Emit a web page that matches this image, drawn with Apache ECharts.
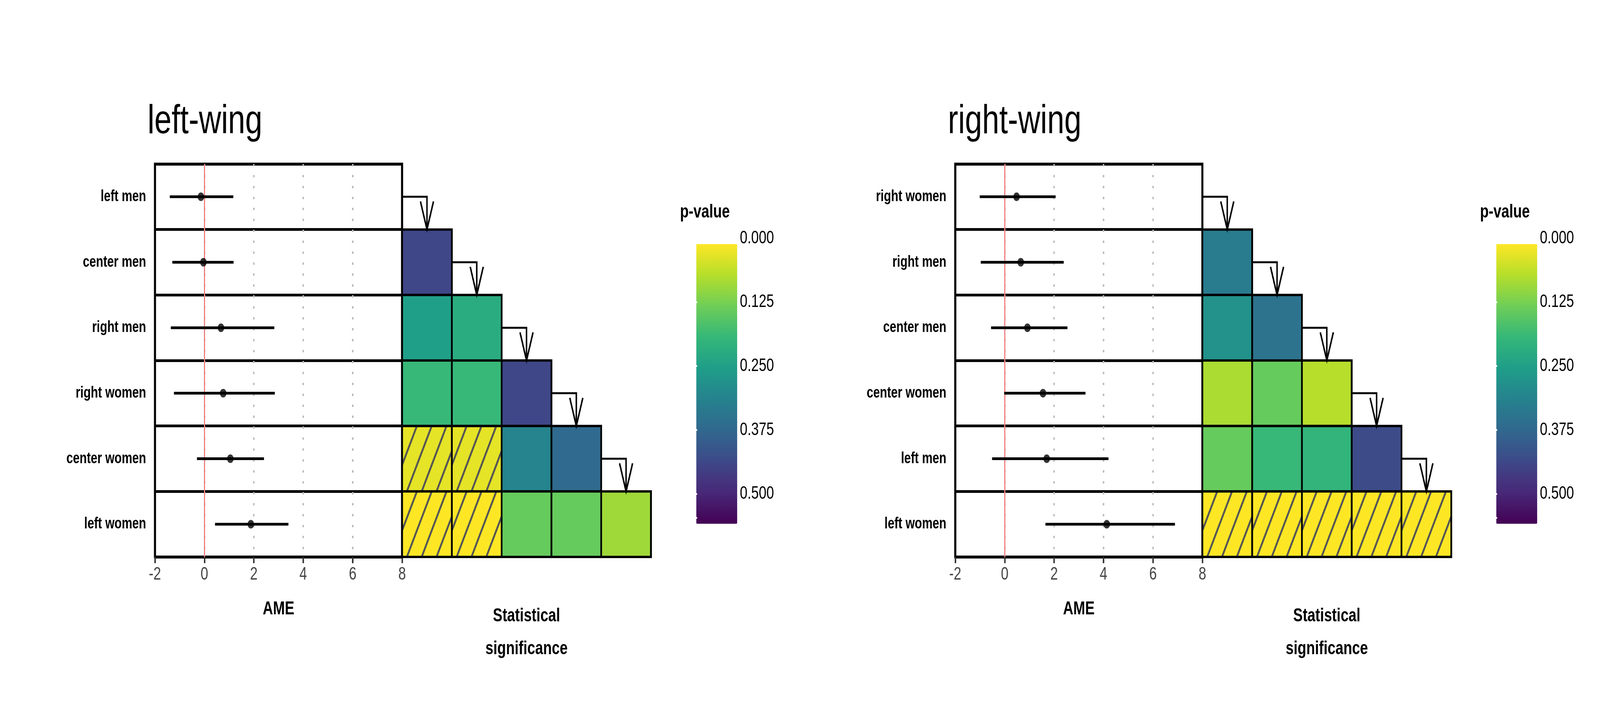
<!DOCTYPE html>
<html>
<head>
<meta charset="utf-8">
<script src="https://cdn.jsdelivr.net/npm/echarts@6/dist/echarts.min.js"></script>
<style>
  html, body { margin: 0; padding: 0; background: #fff; overflow: hidden; }
  #chart-container { width: 5400px; height: 1800px; transform-origin: 0 0; }
</style>
</head>
<body>
<div id="chart-container"></div>
<script>
// ---- data ----
var leftGroups = ['left men', 'center men', 'right men', 'right women', 'center women', 'left women'];
var leftAme = [-0.14, -0.04, 0.67, 0.76, 1.05, 1.88];
var leftLow = [-1.40, -1.30, -1.36, -1.23, -0.30, 0.43];
var leftHigh = [1.17, 1.18, 2.83, 2.85, 2.41, 3.40];
// p-values, lower triangle, row r has r cells
var leftP = [
  [],
  [0.43],
  [0.24, 0.21],
  [0.18, 0.18, 0.43],
  [0.02, 0.02, 0.30, 0.36],
  [0.0, 0.0, 0.13, 0.13, 0.08]
];

var rightGroups = ['right women', 'right men', 'center men', 'center women', 'left men', 'left women'];
var rightAme = [0.48, 0.65, 0.92, 1.55, 1.70, 4.13];
var rightLow = [-1.01, -0.97, -0.55, -0.02, -0.51, 1.65];
var rightHigh = [2.06, 2.39, 2.54, 3.27, 4.20, 6.89];
var rightP = [
  [],
  [0.32],
  [0.27, 0.34],
  [0.07, 0.13, 0.06],
  [0.13, 0.18, 0.19, 0.42],
  [0.0, 0.0, 0.0, 0.0, 0.0]
];

var xTicks = [-2, 0, 2, 4, 6, 8];
var gridLines = [0, 2, 4, 6];
var legendTicks = [0, 0.125, 0.25, 0.375, 0.5];
var pMax = 0.547;
var viridis = ['#FDE725', '#B5DE2B', '#6ECE58', '#35B779', '#1F9E89', '#26828E', '#31688E', '#3E4989', '#482878', '#440154'];

var FONT = 'Liberation Sans';
var dom = document.getElementById('chart-container');
// fit the 5400x1800 layout into whatever window we get
var sx = (window.innerWidth || 5400) / 5400, sy = (window.innerHeight || 1800) / 1800;
if (Math.abs(sx - 1) > 0.01 || Math.abs(sy - 1) > 0.01) dom.style.transform = 'scale(' + sx + ',' + sy + ')';
var myChart = echarts.init(dom, null, { renderer: 'canvas', width: 5400, height: 1800 });

var grids = [], xAxes = [], yAxes = [], series = [], titles = [], graphics = [];
var heatSeriesIdx = [];

function hatchLines(x0, y0, x1, y1) {
  // diagonal stripes, bottom-left to top-right, clipped to the cell
  var h = y1 - y0, s = 0.5, step = 50, out = [];
  for (var c = x0 - h * s; c < x1; c += step) {
    var tA = Math.max(0, (x0 - c) / s), tB = Math.min(h, (x1 - c) / s);
    if (tB <= tA) continue;
    out.push({
      type: 'line',
      shape: { x1: c + tA * s, y1: y1 - tA, x2: c + tB * s, y2: y1 - tB },
      style: { stroke: '#555', lineWidth: 6 }
    });
  }
  return out;
}

function buildPanel(cfg) {
  var gi = grids.length;
  var n = cfg.groups.length;
  // forest grid
  grids.push({ left: cfg.left, top: 420, width: 834, height: 1006, show: true,
    borderColor: '#000', borderWidth: 7, backgroundColor: '#fff' });
  // heat grid
  grids.push({ left: cfg.left + 834, top: 420, width: 840, height: 1006 });

  xAxes.push({
    gridIndex: gi, type: 'value', min: -2, max: 8, interval: 2,
    axisLine: { show: false },
    axisTick: { show: true, length: 16, lineStyle: { color: '#333', width: 5 } },
    axisLabel: { fontFamily: FONT, fontSize: 46, color: '#444', margin: 22,
      formatter: function (v) { return xTicks.indexOf(v) >= 0 ? String(v) : ''; } },
    splitLine: { show: false },
    name: 'AME', nameLocation: 'middle', nameGap: 110,
    nameTextStyle: { fontFamily: FONT, fontSize: 48, fontWeight: 'bold', color: '#000' }
  });
  yAxes.push({
    gridIndex: gi, type: 'category', data: cfg.groups, inverse: true,
    axisLine: { show: false }, axisTick: { show: false },
    axisLabel: { fontFamily: FONT, fontSize: 40, fontWeight: 'bold', color: '#000', margin: 30 },
    splitLine: { show: true, lineStyle: { color: '#000', width: 7 } }
  });
  xAxes.push({
    gridIndex: gi + 1, type: 'value', min: 0, max: 5, show: true,
    axisLine: { show: false }, axisTick: { show: false }, axisLabel: { show: false },
    splitLine: { show: false },
    name: 'Statistical\nsignificance', nameLocation: 'middle', nameGap: 110,
    nameTextStyle: { fontFamily: FONT, fontSize: 48, fontWeight: 'bold', color: '#000', lineHeight: 84, verticalAlign: 'top' }
  });
  yAxes.push({ gridIndex: gi + 1, type: 'value', min: 0, max: 6, inverse: true, show: false });

  var xi = xAxes.length - 2, yi = yAxes.length - 2;

  // dotted reference lines
  series.push({
    type: 'scatter', xAxisIndex: xi, yAxisIndex: yi, data: [], z: 2,
    markLine: { silent: true, symbol: 'none', label: { show: false },
      lineStyle: { color: '#bbb', width: 5, type: [6, 22] },
      data: gridLines.map(function (v) { return { xAxis: v }; }) }
  });
  // confidence intervals
  series.push({
    type: 'custom', xAxisIndex: xi, yAxisIndex: yi, z: 5,
    data: cfg.groups.map(function (g, i) { return [cfg.low[i], cfg.high[i], i]; }),
    renderItem: function (params, api) {
      var a = api.coord([api.value(0), api.value(2)]);
      var b = api.coord([api.value(1), api.value(2)]);
      return { type: 'line', shape: { x1: a[0], y1: a[1], x2: b[0], y2: b[1] },
        style: { stroke: '#000', lineWidth: 7 } };
    }
  });
  // point estimates + zero line
  series.push({
    type: 'scatter', xAxisIndex: xi, yAxisIndex: yi, z: 6,
    symbolSize: 22, itemStyle: { color: '#000' },
    data: cfg.groups.map(function (g, i) { return [cfg.ame[i], i]; }),
    markLine: { silent: true, symbol: 'none', label: { show: false },
      lineStyle: { color: '#f28080', width: 4, type: 'solid' },
      data: [{ xAxis: 0 }] }
  });

  // heat cells
  var cells = [];
  cfg.p.forEach(function (row, r) {
    row.forEach(function (v, c) { cells.push([c, r, v]); });
  });
  heatSeriesIdx.push(series.length);
  series.push({
    type: 'custom', xAxisIndex: xi + 1, yAxisIndex: yi + 1, z: 3,
    data: cells,
    encode: { x: 0, y: 1 },
    renderItem: function (params, api) {
      var p0 = api.coord([api.value(0), api.value(1)]);
      var p1 = api.coord([api.value(0) + 1, api.value(1) + 1]);
      var kids = [{ type: 'rect', shape: { x: p0[0], y: p0[1], width: p1[0] - p0[0], height: p1[1] - p0[1] },
        style: { fill: api.visual('color') } }];
      if (api.value(2) < 0.05) kids = kids.concat(hatchLines(p0[0], p0[1], p1[0], p1[1]));
      kids.push({ type: 'rect', shape: { x: p0[0], y: p0[1], width: p1[0] - p0[0], height: p1[1] - p0[1] },
        style: { fill: null, stroke: '#000', lineWidth: 6 } });
      return { type: 'group', children: kids };
    }
  });

  // arrows from each row to the next
  var arrows = [];
  for (var i = 0; i < n - 1; i++) arrows.push([i]);
  series.push({
    type: 'custom', xAxisIndex: xi + 1, yAxisIndex: yi + 1, z: 4,
    data: arrows,
    renderItem: function (params, api) {
      var k = api.value(0);
      var a = api.coord([k, k + 0.5]);
      var b = api.coord([k + 0.5, k + 0.5]);
      var c = api.coord([k + 0.5, k + 1]);
      var st = { stroke: '#000', lineWidth: 5, fill: null };
      return { type: 'group', children: [
        { type: 'polyline', shape: { points: [a, b, c] }, style: st },
        { type: 'polyline', shape: { points: [[c[0] - 22, c[1] - 72], c, [c[0] + 22, c[1] - 72]] }, style: st }
      ] };
    }
  });

  titles.push({ text: cfg.title, left: cfg.left - 30, top: 255,
    textStyle: { fontFamily: FONT, fontSize: 104, fontWeight: 'normal', color: '#000' } });

  // colour bar tick labels
  var lg = grids.length;
  grids.push({ left: cfg.legendLeft, top: 610, width: 138, height: 716 });
  xAxes.push({ gridIndex: lg, type: 'value', show: false, min: 0, max: 1 });
  ['right', 'left'].forEach(function (pos) {
    yAxes.push({
      gridIndex: lg, type: 'value', min: 0, max: pMax, interval: 0.125, inverse: true, position: pos,
      axisLine: { show: false },
      axisTick: { show: true, inside: true, length: 18, lineStyle: { color: '#fff', width: 4 } },
      axisLabel: { show: pos === 'right', fontFamily: FONT, fontSize: 46, color: '#000', margin: 24,
        showMaxLabel: false,
        formatter: function (v) { return legendTicks.indexOf(v) >= 0 ? v.toFixed(3) : ''; } },
      splitLine: { show: false }, z: 10
    });
  });
  series.push({ type: 'scatter', xAxisIndex: xAxes.length - 1, yAxisIndex: yAxes.length - 1, data: [], silent: true });
  series.push({ type: 'scatter', xAxisIndex: xAxes.length - 1, yAxisIndex: yAxes.length - 2, data: [], silent: true });

  graphics.push({ type: 'text', left: cfg.legendLeft - 40, top: 520,
    style: { text: 'p-value', font: 'bold 48px ' + FONT, fill: '#000' } });

  return cfg.legendLeft;
}

var l1 = buildPanel({ title: 'left-wing', left: 523, legendLeft: 2335,
  groups: leftGroups, ame: leftAme, low: leftLow, high: leftHigh, p: leftP });
var l2 = buildPanel({ title: 'right-wing', left: 3224, legendLeft: 5035,
  groups: rightGroups, ame: rightAme, low: rightLow, high: rightHigh, p: rightP });

var option = {
  backgroundColor: '#fff',
  animation: false,
  title: titles,
  grid: grids,
  xAxis: xAxes,
  yAxis: yAxes,
  graphic: graphics,
  visualMap: [l1, l2].map(function (left) {
    return {
      type: 'continuous', min: 0, max: pMax, dimension: 2, seriesIndex: heatSeriesIdx,
      inverse: true, calculable: false, text: null, showLabel: false,
      left: left, top: 610, itemWidth: 138, itemHeight: 716,
      inRange: { color: viridis }
    };
  }),
  series: series
};

myChart.setOption(option);
</script>
</body>
</html>
